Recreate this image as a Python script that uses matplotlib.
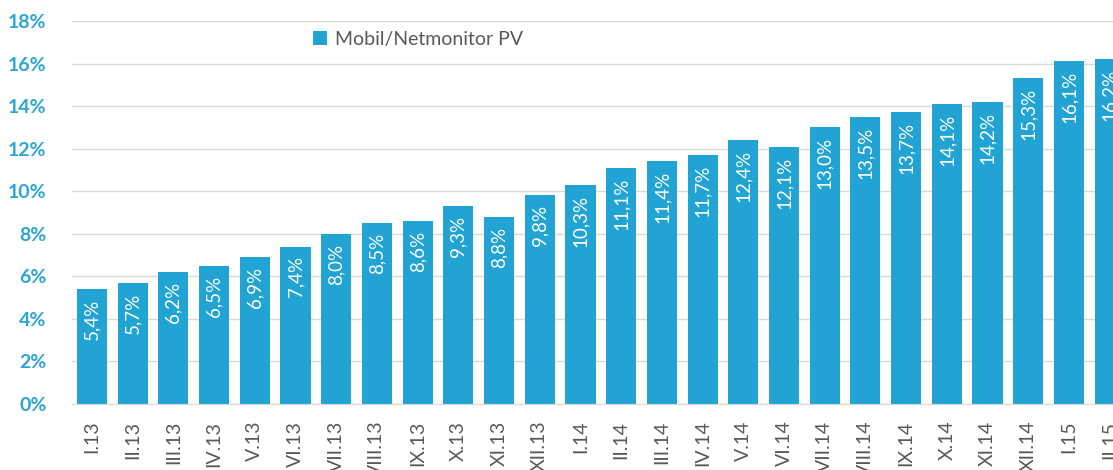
import matplotlib.pyplot as plt
from matplotlib.ticker import FuncFormatter

plt.rcParams['font.family'] = ['Lato', 'DejaVu Sans']

# monthly share, %
months = ['I.13', 'II.13', 'III.13', 'IV.13', 'V.13', 'VI.13', 'VII.13', 'VIII.13', 'IX.13', 'X.13', 'XI.13', 'XII.13',
          'I.14', 'II.14', 'III.14', 'IV.14', 'V.14', 'VI.14', 'VII.14', 'VIII.14', 'IX.14', 'X.14', 'XI.14', 'XII.14',
          'I.15', 'II.15']
values = [5.4, 5.7, 6.2, 6.5, 6.9, 7.4, 8.0, 8.5, 8.6, 9.3, 8.8, 9.8,
          10.3, 11.1, 11.4, 11.7, 12.4, 12.1, 13.0, 13.5, 13.7, 14.1, 14.2, 15.3,
          16.1, 16.2]
series_name = 'Mobil/Netmonitor PV'

blue = '#21A3D3'
grey = '#595959'

fig = plt.figure(figsize=(11.13, 4.70), dpi=100)
# the right end of the axes is clipped by the figure edge on purpose
ax = fig.add_axes([71.6 / 1113, 66 / 470, (1130 - 71.6) / 1113, 383 / 470])

x = list(range(len(values)))
bars = ax.bar(x, values, width=0.74, color=blue, label=series_name, zorder=2)

for xi, v in zip(x, values):
    ax.annotate(('%.1f%%' % v).replace('.', ','), (xi, v), xytext=(0, -7), textcoords='offset points',
                rotation=90, ha='center', va='top', color='white', fontsize=13.5)

ax.set_xlim(-0.5, len(values) - 0.5)
ax.set_ylim(0, 18)
ax.set_yticks(range(0, 19, 2))
ax.yaxis.set_major_formatter(FuncFormatter(lambda v, p: '%d%%' % v))
ax.grid(axis='y', color='#D9D9D9', linewidth=1, zorder=0)
ax.set_axisbelow(True)

ax.set_xticks(x)
ax.set_xticklabels(months, rotation=90, color=grey, fontsize=14)
for lbl in ax.get_yticklabels():
    lbl.set_color('#2CA5D6')
    lbl.set_fontweight('bold')
    lbl.set_fontsize(14)

ax.tick_params(axis='both', length=0)
ax.tick_params(axis='y', pad=18)
ax.tick_params(axis='x', pad=12)
for s in ['top', 'right', 'left']:
    ax.spines[s].set_visible(False)
ax.spines['bottom'].set_color('#D9D9D9')

ax.legend(loc='upper left', bbox_to_anchor=(0.212, 1.02), frameon=False, fontsize=14,
          labelcolor=grey, handlelength=0.7, handleheight=0.7, handletextpad=0.4)

fig.savefig('out.png', dpi=100)
